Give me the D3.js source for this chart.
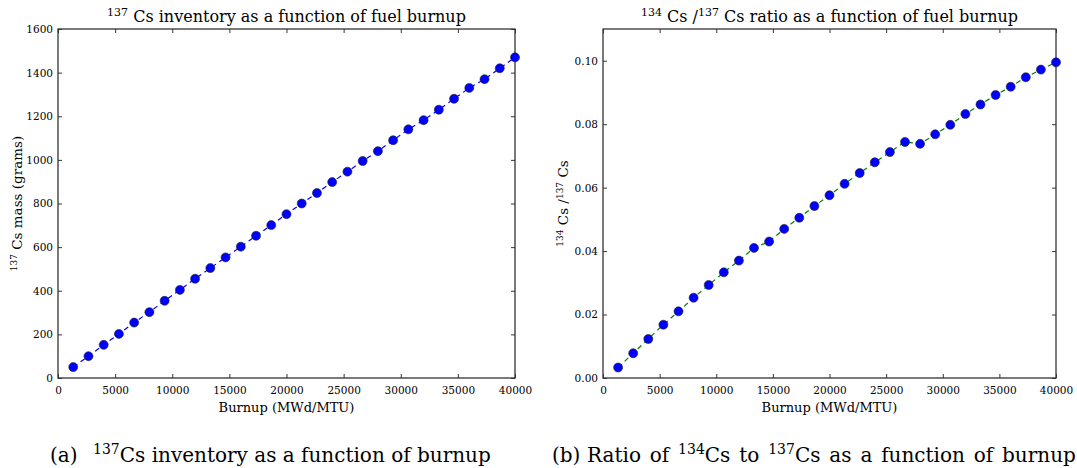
<!DOCTYPE html>
<html>
<head>
<meta charset="utf-8">
<script src="https://cdn.jsdelivr.net/npm/d3@7"></script>
<style>
  body { margin: 0; background: #fff; }
  svg text { font-family: "DejaVu Serif", serif; fill: #000; }
</style>
</head>
<body>
<svg id="vis" width="1077" height="468"></svg>
<script>
// burnup steps (MWd/MTU)
let burnup = [1333, 2667, 4000, 5333, 6667, 8000, 9333, 10667, 12000, 13333,
              14667, 16000, 17333, 18667, 20000, 21333, 22667, 24000, 25333, 26667,
              28000, 29333, 30667, 32000, 33333, 34667, 36000, 37333, 38667, 40000];
// Cs-137 mass (grams)
let cs137 = [50, 100, 152, 202, 254, 302, 354, 404, 455, 504,
             553, 602, 652, 701, 751, 800, 848, 898, 946, 995,
             1040, 1090, 1140, 1182, 1230, 1280, 1330, 1370, 1420, 1470];
// Cs-134 / Cs-137 ratio
let ratio = [0.0033, 0.0078, 0.0123, 0.0168, 0.0210, 0.0253, 0.0293, 0.0333, 0.0370, 0.0410,
             0.0430, 0.0470, 0.0505, 0.0542, 0.0576, 0.0612, 0.0646, 0.0680, 0.0712, 0.0744,
             0.0738, 0.0768, 0.0798, 0.0832, 0.0862, 0.0892, 0.0918, 0.0948, 0.0972, 0.0995];

let xTicks = [0, 5000, 10000, 15000, 20000, 25000, 30000, 35000, 40000];
let massTicks = [0, 200, 400, 600, 800, 1000, 1200, 1400, 1600];
let ratioTicks = [0, 0.02, 0.04, 0.06, 0.08, 0.10];

let svg = d3.select("#vis");

function sup(el, s, size) {
  el.append("tspan").attr("font-size", size).attr("dy", -size * 0.55).text(s);
}
function base(el, s, size) {
  el.append("tspan").attr("dy", size * 0.55).text(s);
}

function drawPanel(opt) {
  let g = svg.append("g");
  let x = d3.scaleLinear().domain([0, 40000]).range([opt.left, opt.right]);
  let y = d3.scaleLinear().domain(opt.yDomain).range([opt.bottom, opt.top]);

  // inward ticks on all four sides, like classic matplotlib
  g.append("g").attr("transform", `translate(0,${opt.bottom})`)
    .call(d3.axisBottom(x).tickValues(xTicks).tickSizeInner(-4).tickSizeOuter(0).tickPadding(9).tickFormat(d3.format("d")));
  g.append("g").attr("transform", `translate(0,${opt.top})`)
    .call(d3.axisTop(x).tickValues(xTicks).tickSizeInner(-4).tickSizeOuter(0).tickFormat(""));
  g.append("g").attr("transform", `translate(${opt.left},0)`)
    .call(d3.axisLeft(y).tickValues(opt.yTicks).tickSizeInner(-4).tickSizeOuter(0).tickPadding(5).tickFormat(opt.yFormat));
  g.append("g").attr("transform", `translate(${opt.right},0)`)
    .call(d3.axisRight(y).tickValues(opt.yTicks).tickSizeInner(-4).tickSizeOuter(0).tickFormat(""));
  g.selectAll(".domain").remove();
  g.selectAll(".tick line").attr("stroke", "#000").attr("stroke-width", 0.8);
  g.selectAll(".tick text").attr("font-size", 10.5).attr("font-family", "DejaVu Serif");

  g.append("rect")
    .attr("x", opt.left).attr("y", opt.top)
    .attr("width", opt.right - opt.left).attr("height", opt.bottom - opt.top)
    .attr("fill", "none").attr("stroke", "#333").attr("stroke-width", 1.3);

  let line = d3.line().x((d, i) => x(burnup[i])).y(d => y(d));
  g.append("path")
    .datum(opt.values)
    .attr("d", line)
    .attr("fill", "none")
    .attr("stroke", opt.lineColor)
    .attr("stroke-width", 1.2)
    .attr("stroke-dasharray", "5,4");

  g.selectAll("circle")
    .data(opt.values)
    .enter()
    .append("circle")
    .attr("cx", (d, i) => x(burnup[i]))
    .attr("cy", d => y(d))
    .attr("r", 4.5)
    .attr("fill", "#0000ff")
    .attr("stroke", "#222")
    .attr("stroke-width", 0.6);

  // title
  let t = g.append("text")
    .attr("x", (opt.left + opt.right) / 2).attr("y", 22)
    .attr("text-anchor", "middle").attr("font-size", 16);
  opt.title(t);

  // x label
  g.append("text")
    .attr("x", (opt.left + opt.right) / 2).attr("y", 412)
    .attr("text-anchor", "middle").attr("font-size", 13)
    .text("Burnup (MWd/MTU)");

  // y label
  let yl = g.append("text")
    .attr("transform", `translate(${opt.yLabelX},${(opt.top + opt.bottom) / 2}) rotate(-90)`)
    .attr("text-anchor", "middle").attr("font-size", 13.5);
  opt.yLabel(yl);

  // caption
  let c = g.append("text").attr("y", 462).attr("font-size", 20);
  c.append("tspan").attr("x", opt.captionX).text(opt.captionTag);
  let c2 = g.append("text").attr("y", 462).attr("font-size", 20)
    .attr("x", opt.captionX + opt.captionGap)
    .attr("word-spacing", opt.wordSpacing);
  opt.caption(c2);
}

drawPanel({
  left: 58, right: 515, top: 29, bottom: 378,
  yDomain: [0, 1600], yTicks: massTicks, yFormat: d3.format("d"),
  values: cs137, lineColor: "#0000ff", yLabelX: 22,
  captionX: 50, captionTag: "(a)", captionGap: 43, wordSpacing: 0,
  title: t => { sup(t, "137", 11); base(t, " Cs inventory as a function of fuel burnup", 11); },
  yLabel: t => { sup(t, "137", 9); base(t, " Cs mass (grams)", 9); },
  caption: t => { sup(t, "137", 14); base(t, "Cs inventory as a function of burnup", 14); }
});

drawPanel({
  left: 603, right: 1056, top: 29, bottom: 378,
  yDomain: [0, 0.11], yTicks: ratioTicks, yFormat: d3.format(".2f"),
  values: ratio, lineColor: "#008000", yLabelX: 568,
  captionX: 552, captionTag: "(b)", captionGap: 35, wordSpacing: 2.5,
  title: t => {
    sup(t, "134", 11); base(t, " Cs /", 11);
    sup(t, "137", 11); base(t, " Cs ratio as a function of fuel burnup", 11);
  },
  yLabel: t => {
    sup(t, "134", 9); base(t, " Cs /", 9);
    sup(t, "137", 9); base(t, " Cs", 9);
  },
  caption: t => {
    t.append("tspan").text("Ratio of ");
    sup(t, "134", 14); base(t, "Cs to ", 14);
    sup(t, "137", 14); base(t, "Cs as a function of burnup", 14);
  }
});
</script>
</body>
</html>
